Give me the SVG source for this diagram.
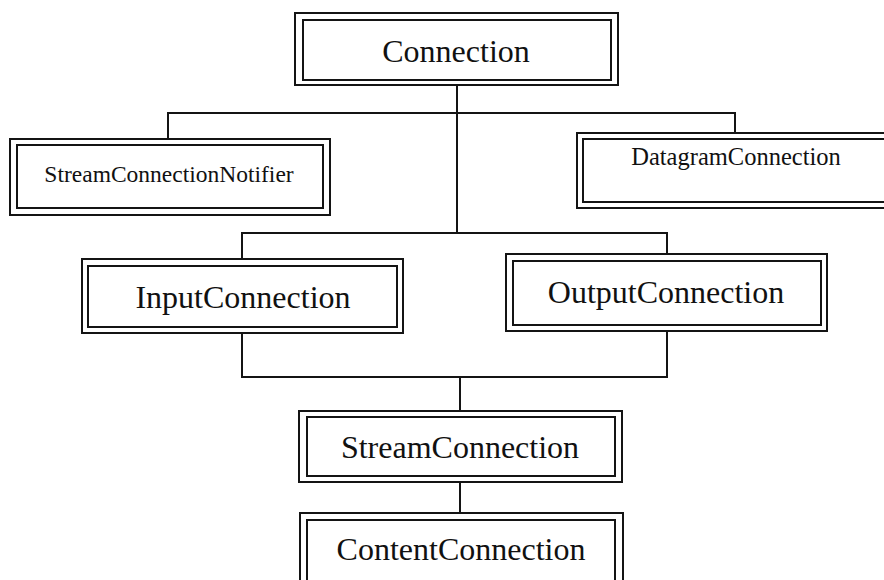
<svg xmlns="http://www.w3.org/2000/svg" width="884" height="580" viewBox="0 0 884 580">
  <style>
    .frame { fill: none; stroke: #141414; stroke-width: 2; }
    .wire { fill: none; stroke: #141414; stroke-width: 2; }
    .label { font-family: "Liberation Serif", "Times New Roman", serif; fill: #111; text-anchor: middle; }
    .big { font-size: 32px; }
  </style>
  <rect width="884" height="580" fill="#ffffff"/>

  <!-- inheritance connectors -->
  <g id="connectors">
    <path class="wire" d="M457 85 V233"/>
    <path class="wire" d="M168 139 V113 H735 V133"/>
    <path class="wire" d="M242 259 V233 H667 V254"/>
    <path class="wire" d="M242 333 V377 H667 V331"/>
    <path class="wire" d="M460 377 V412"/>
    <path class="wire" d="M460 483 V513"/>
  </g>

  <g id="connection">
    <rect class="frame" x="295" y="13" width="323" height="72"/>
    <rect class="frame" x="303" y="20" width="308" height="60"/>
    <text class="label big" x="456" y="62">Connection</text>
  </g>

  <g id="stream-connection-notifier">
    <rect class="frame" x="10" y="139" width="320" height="76"/>
    <rect class="frame" x="17" y="145" width="306" height="63"/>
    <text class="label" x="169" y="182" font-size="23.5">StreamConnectionNotifier</text>
  </g>

  <g id="datagram-connection">
    <rect class="frame" x="577" y="133" width="316" height="75"/>
    <rect class="frame" x="583" y="139" width="304" height="63"/>
    <text class="label" x="736" y="165" font-size="24.5">DatagramConnection</text>
  </g>

  <g id="input-connection">
    <rect class="frame" x="82" y="259" width="321" height="74"/>
    <rect class="frame" x="88" y="266" width="309" height="61"/>
    <text class="label big" x="243" y="308">InputConnection</text>
  </g>

  <g id="output-connection">
    <rect class="frame" x="506" y="254" width="321" height="77"/>
    <rect class="frame" x="513" y="261" width="308" height="64"/>
    <text class="label big" x="666" y="303">OutputConnection</text>
  </g>

  <g id="stream-connection">
    <rect class="frame" x="299" y="411" width="323" height="71"/>
    <rect class="frame" x="307" y="417" width="308" height="59"/>
    <text class="label big" x="460" y="458">StreamConnection</text>
  </g>

  <g id="content-connection">
    <rect class="frame" x="300" y="513" width="323" height="76"/>
    <rect class="frame" x="307" y="520" width="308" height="64"/>
    <text class="label big" x="461" y="560">ContentConnection</text>
  </g>
</svg>
